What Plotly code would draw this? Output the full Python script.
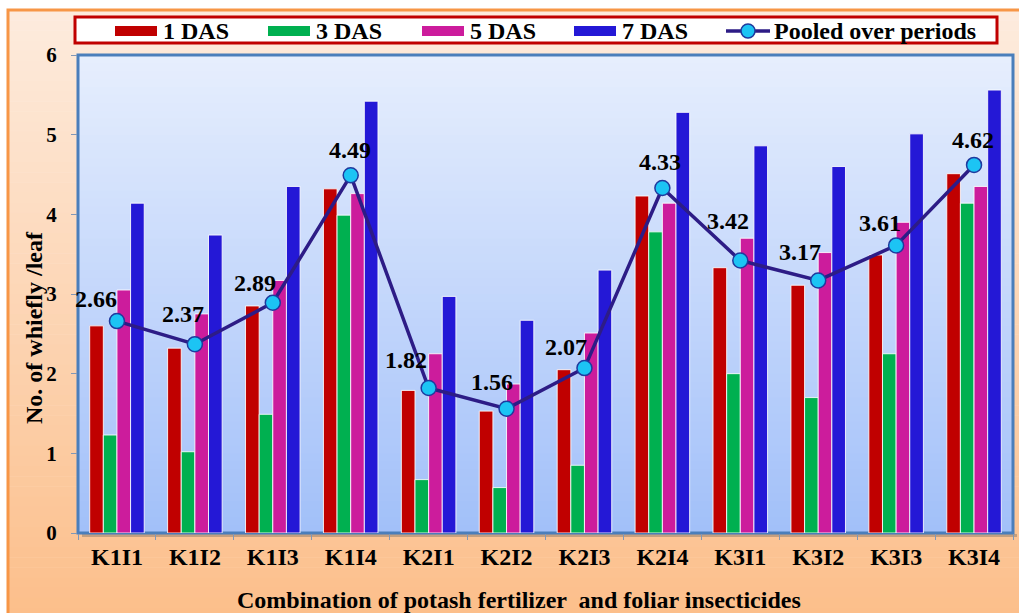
import plotly.graph_objects as go

# Treatment combinations (potash level x insecticide)
categories = ["K1I1", "K1I2", "K1I3", "K1I4", "K2I1", "K2I2",
              "K2I3", "K2I4", "K3I1", "K3I2", "K3I3", "K3I4"]

# Whitefly counts per leaf at each observation (days after spray)
das_1 = [2.60, 2.32, 2.85, 4.32, 1.79, 1.53, 2.05, 4.23, 3.33, 3.11, 3.49, 4.51]
das_3 = [1.23, 1.02, 1.49, 3.99, 0.67, 0.57, 0.85, 3.78, 2.00, 1.70, 2.25, 4.14]
das_5 = [3.05, 2.75, 3.17, 4.26, 2.25, 1.87, 2.51, 4.14, 3.70, 3.52, 3.90, 4.35]
das_7 = [4.14, 3.74, 4.35, 5.42, 2.97, 2.67, 3.30, 5.28, 4.86, 4.60, 5.01, 5.56]
pooled = [2.66, 2.37, 2.89, 4.49, 1.82, 1.56, 2.07, 4.33, 3.42, 3.17, 3.61, 4.62]

series_names = ["1 DAS", "3 DAS", "5 DAS", "7 DAS"]
y_ticks = [0, 1, 2, 3, 4, 5, 6]

# Pixel offsets of the pooled value labels relative to their markers
label_dx = [-21, -12, -18, -1, -23, -15, -18, -2, -12, -18, -16, -1]
label_dy = [22, 30, 20, 25, 28, 27, 21, 26, 40, 28, 22, 25]

bar_colors = ["#C00000", "#00B050", "#CC1C9C", "#2418D6"]
line_color = "#2D1C86"
marker_fill = "#1CC4F4"
marker_edge = "#1F3A9E"
FONT = "Liberation Serif"
FS = 24

W, H = 1019, 613
ML, MR, MT, MB = 78, 6, 55, 80
PW, PH = W - ML - MR, H - MT - MB


def px_x(p):
    return (p - ML) / PW


def px_y(p):
    return (H - MB - p) / PH


def mix(c1, c2, t):
    a = [int(c1[i:i + 2], 16) for i in (1, 3, 5)]
    b = [int(c2[i:i + 2], 16) for i in (1, 3, 5)]
    return "rgb(%d,%d,%d)" % tuple(round(a[k] + (b[k] - a[k]) * t) for k in range(3))


def bold(size=FS):
    return dict(family=FONT, size=size, color="black", weight="bold")


fig = go.Figure()

for name, vals, col in zip(series_names, [das_1, das_3, das_5, das_7], bar_colors):
    fig.add_trace(go.Bar(
        x=categories, y=vals, name=name, showlegend=False,
        marker=dict(color=col, line=dict(color="rgba(255,255,255,0.85)", width=1)),
    ))

fig.add_trace(go.Scatter(
    x=categories, y=pooled, name="Pooled over periods", mode="lines+markers",
    showlegend=False,
    line=dict(color=line_color, width=3.5),
    marker=dict(size=15, color=marker_fill, line=dict(color=marker_edge, width=1.5)),
))

shapes = []

# Peach gradient chart area
n = 60
top, bot = 10, H + 5
for i in range(n):
    y0 = top + (bot - top) * i / n
    y1 = top + (bot - top) * (i + 1) / n + 0.5
    shapes.append(dict(type="rect", xref="paper", yref="paper", layer="below",
                       x0=px_x(8), x1=px_x(W + 5), y0=px_y(y0), y1=px_y(y1),
                       line=dict(width=0), fillcolor=mix("#FDEBDD", "#FCBF8B", i / (n - 1))))
shapes.append(dict(type="rect", xref="paper", yref="paper", layer="below",
                   x0=px_x(8), x1=px_x(W + 10), y0=px_y(10), y1=px_y(H + 10),
                   line=dict(color="#F79646", width=3)))

# Blue gradient plot area
for i in range(n):
    shapes.append(dict(type="rect", xref="paper", yref="paper", layer="below",
                       x0=0, x1=1, y0=1 - i / n, y1=1 - (i + 1) / n - 0.002,
                       line=dict(width=0), fillcolor=mix("#E6EEFD", "#A2C0F9", i / (n - 1))))
shapes.append(dict(type="rect", xref="paper", yref="paper", layer="below",
                   x0=px_x(ML + 4), x1=px_x(W - MR + 4), y0=px_y(H - MB + 4), y1=px_y(H - MB + 1),
                   line=dict(width=0), fillcolor="rgba(90,90,90,0.35)"))
shapes.append(dict(type="rect", xref="paper", yref="paper", layer="below",
                   x0=0, x1=1, y0=0, y1=1, line=dict(color="#4A7EBB", width=3)))

# Legend frame
shapes.append(dict(type="rect", xref="paper", yref="paper", layer="below",
                   x0=px_x(75), x1=px_x(997), y0=px_y(43), y1=px_y(17),
                   fillcolor="white", line=dict(color="#C00000", width=3)))

annotations = []
leg_y = 31
leg_x = [115, 268, 422, 574]
for name, col, x0 in zip(series_names, bar_colors, leg_x):
    shapes.append(dict(type="rect", xref="paper", yref="paper", layer="below",
                       x0=px_x(x0), x1=px_x(x0 + 42), y0=px_y(leg_y + 5), y1=px_y(leg_y - 5),
                       fillcolor=col, line=dict(width=0)))
    annotations.append(dict(x=px_x(x0 + 46), y=px_y(leg_y), xref="paper", yref="paper",
                            text=name, showarrow=False, xanchor="left", yanchor="middle",
                            font=bold()))
shapes.append(dict(type="line", xref="paper", yref="paper", layer="below",
                   x0=px_x(726), x1=px_x(770), y0=px_y(leg_y), y1=px_y(leg_y),
                   line=dict(color=line_color, width=3.5)))
shapes.append(dict(type="circle", xref="paper", yref="paper", layer="below",
                   x0=px_x(741), x1=px_x(755), y0=px_y(leg_y + 7), y1=px_y(leg_y - 7),
                   fillcolor=marker_fill, line=dict(color=marker_edge, width=1.5)))
annotations.append(dict(x=px_x(772), y=px_y(leg_y), xref="paper", yref="paper",
                        text="Pooled over periods", showarrow=False, xanchor="left",
                        yanchor="middle", font=bold()))

# Pooled value labels
for c, v, dx, dy in zip(categories, pooled, label_dx, label_dy):
    annotations.append(dict(x=c, y=v, text=f"{v:.2f}", showarrow=False,
                            xshift=dx, yshift=dy, xanchor="center", yanchor="middle",
                            font=bold()))

# Axis titles
annotations.append(dict(x=px_x(519), y=px_y(600), xref="paper", yref="paper",
                        text="Combination of potash fertilizer  and foliar insecticides",
                        showarrow=False, xanchor="center", yanchor="middle", font=bold()))
annotations.append(dict(x=px_x(34), y=px_y(328), xref="paper", yref="paper",
                        text="No. of whiefly /leaf", textangle=-90,
                        showarrow=False, xanchor="center", yanchor="middle", font=bold()))

fig.update_layout(
    width=W, height=H,
    margin=dict(l=ML, r=MR, t=MT, b=MB),
    paper_bgcolor="white",
    plot_bgcolor="rgba(0,0,0,0)",
    barmode="group", bargap=0.3, bargroupgap=0.0,
    showlegend=False,
    shapes=shapes,
    annotations=annotations,
    xaxis=dict(
        type="category", range=[-0.5, len(categories) - 0.5],
        showgrid=False, zeroline=False, showline=False,
        ticks="outside", tickson="boundaries", ticklen=6, tickcolor="#7F97B8",
        tickfont=bold(), ticklabelstandoff=7,
    ),
    yaxis=dict(
        range=[0, 6], tickvals=y_ticks, showgrid=False, zeroline=False, showline=False,
        ticks="outside", ticklen=6, tickcolor="#7F97B8",
        tickfont=bold(21), ticklabelstandoff=10,
    ),
)

fig.write_html("out.html")
